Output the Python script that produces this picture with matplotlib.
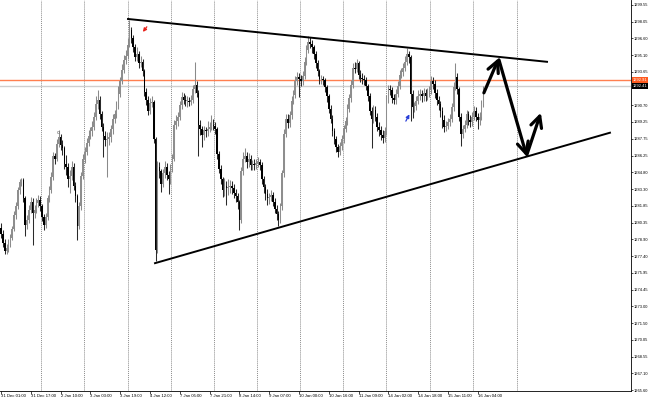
import numpy as np
import matplotlib.pyplot as plt

plt.rcParams['font.family'] = ['Liberation Sans', 'DejaVu Sans']

# H1 bars from 31 Dec 01:00, prices
first_open = 1279.9
close = [
    1279.4, 1278.6, 1277.9, 1278.1, 1278.5, 1279.0, 1279.8, 1281.0, 1281.8, 1283.2, 1283.9, 1284.1, 1282.5, 1280.2, 1280.6, 1281.5,
    1282.2, 1281.2, 1281.5, 1282.1, 1282.4, 1281.8, 1280.9, 1280.2, 1280.9, 1282.5, 1283.2, 1284.4, 1286.2, 1286.0, 1287.3, 1287.9,
    1287.2, 1286.9, 1285.5, 1285.3, 1284.2, 1284.5, 1285.3, 1283.6, 1282.7, 1280.1, 1281.8, 1284.5, 1286.0, 1286.6, 1287.4, 1288.0,
    1288.4, 1288.8, 1289.7, 1290.8, 1291.2, 1289.9, 1288.8, 1288.0, 1287.6, 1287.7, 1287.9, 1288.6, 1289.5, 1289.9, 1290.7, 1291.7,
    1292.8, 1293.8, 1294.7, 1295.0, 1296.0, 1297.3, 1296.6, 1295.8, 1294.9, 1295.2, 1294.4, 1294.5, 1293.7, 1291.9, 1291.2, 1290.2,
    1290.9, 1291.0, 1287.7, 1278.0, 1285.3, 1284.9, 1283.8, 1284.7, 1285.3, 1284.6, 1284.2, 1285.1, 1286.0, 1289.0, 1289.3, 1289.7,
    1290.7, 1291.4, 1291.2, 1291.1, 1291.1, 1291.0, 1291.2, 1292.1, 1292.5, 1291.8, 1289.0, 1288.6, 1288.1, 1288.5, 1288.4, 1288.6,
    1288.8, 1289.0, 1288.9, 1288.6, 1286.4, 1285.1, 1284.2, 1283.2, 1283.6, 1283.4, 1283.5, 1283.6, 1283.4, 1283.0, 1282.7, 1282.2,
    1280.6, 1284.9, 1286.0, 1286.2, 1285.7, 1286.0, 1285.4, 1285.5, 1285.4, 1285.6, 1285.7, 1285.4, 1284.2, 1283.5, 1282.9, 1282.5,
    1282.6, 1282.8, 1282.2, 1281.6, 1281.1, 1280.6, 1281.8, 1284.7, 1288.2, 1289.5, 1289.1, 1289.8, 1291.1, 1291.6, 1292.8, 1293.2,
    1293.0, 1292.8, 1293.3, 1294.5, 1295.6, 1296.3, 1296.1, 1295.8, 1295.2, 1294.4, 1293.7, 1293.0, 1293.0, 1292.9, 1292.3, 1291.5,
    1290.4, 1289.5, 1288.4, 1287.7, 1287.0, 1286.6, 1287.1, 1287.7, 1288.6, 1289.3, 1290.4, 1291.3, 1292.5, 1294.0, 1293.9, 1294.4,
    1293.4, 1293.1, 1293.0, 1292.9, 1292.4, 1291.5, 1290.2, 1289.5, 1290.3, 1289.7, 1288.8, 1288.5, 1288.1, 1287.8, 1288.4, 1291.2,
    1292.1, 1292.0, 1291.3, 1291.2, 1291.7, 1292.4, 1293.4, 1293.6, 1294.0, 1294.5, 1295.2, 1294.9, 1291.7, 1290.5, 1290.6, 1291.1,
    1291.5, 1291.7, 1291.5, 1291.8, 1291.5, 1291.8, 1292.0, 1292.8, 1292.6, 1291.8, 1291.2, 1290.8, 1290.2, 1289.4, 1288.8, 1288.9,
    1289.2, 1289.5, 1290.5, 1292.3, 1293.2, 1292.1, 1289.7, 1288.2, 1288.6, 1289.0, 1289.9, 1289.4, 1289.2, 1289.7, 1290.2, 1289.7,
    1289.4, 1289.7, 1290.8, 1292.0,
]
high = [
    1280.3, 1279.7, 1278.9, 1278.5, 1278.9, 1279.4, 1280.1, 1281.4, 1282.2, 1283.5, 1284.2, 1284.3, 1284.3, 1282.7, 1281.0, 1281.9,
    1282.6, 1282.5, 1281.9, 1282.5, 1282.8, 1282.7, 1282.0, 1281.1, 1281.2, 1282.8, 1283.6, 1284.8, 1286.6, 1286.5, 1287.7, 1288.5,
    1288.2, 1287.6, 1287.1, 1286.3, 1285.6, 1285.0, 1285.8, 1285.6, 1283.9, 1282.9, 1282.2, 1284.8, 1286.4, 1287.0, 1287.8, 1288.5,
    1288.8, 1289.3, 1290.1, 1291.5, 1292.0, 1291.5, 1290.2, 1289.1, 1288.4, 1288.3, 1288.3, 1289.0, 1289.9, 1290.3, 1291.1, 1292.4,
    1293.2, 1294.3, 1295.1, 1295.6, 1296.6, 1298.2, 1297.6, 1296.9, 1296.1, 1295.8, 1295.5, 1295.0, 1294.8, 1293.9, 1292.2, 1291.5,
    1291.3, 1291.5, 1291.2, 1287.9, 1285.8, 1285.7, 1285.1, 1285.1, 1285.8, 1285.6, 1284.9, 1285.5, 1286.4, 1289.4, 1289.8, 1290.1,
    1291.1, 1291.9, 1291.8, 1291.6, 1291.5, 1291.4, 1291.6, 1292.5, 1294.5, 1292.8, 1292.0, 1289.4, 1288.9, 1288.9, 1288.8, 1289.3,
    1289.2, 1289.8, 1289.5, 1289.2, 1288.8, 1286.7, 1285.4, 1284.4, 1284.3, 1284.0, 1284.2, 1284.1, 1284.0, 1283.8, 1283.3, 1283.0,
    1282.4, 1285.3, 1286.6, 1286.9, 1286.6, 1286.5, 1286.3, 1285.9, 1286.0, 1286.0, 1286.1, 1286.0, 1285.7, 1284.5, 1283.8, 1283.3,
    1283.0, 1283.2, 1283.1, 1282.5, 1281.9, 1281.4, 1282.1, 1285.0, 1288.6, 1289.9, 1289.9, 1290.2, 1291.5, 1292.0, 1293.3, 1293.6,
    1293.5, 1293.4, 1293.7, 1294.9, 1296.0, 1296.8, 1296.7, 1296.4, 1296.0, 1295.5, 1294.7, 1293.9, 1293.4, 1293.3, 1293.1, 1292.5,
    1291.7, 1290.7, 1289.8, 1288.7, 1288.0, 1287.3, 1287.5, 1288.1, 1289.0, 1289.7, 1290.8, 1291.7, 1292.9, 1294.4, 1294.5, 1294.8,
    1294.6, 1293.8, 1293.5, 1293.4, 1293.2, 1292.6, 1291.8, 1290.5, 1290.7, 1290.6, 1290.0, 1289.2, 1288.9, 1288.5, 1288.8, 1291.6,
    1292.5, 1292.5, 1292.3, 1291.7, 1292.1, 1292.8, 1293.8, 1294.0, 1294.4, 1295.0, 1295.7, 1295.5, 1295.1, 1292.0, 1291.0, 1291.5,
    1292.0, 1292.1, 1292.0, 1292.2, 1292.1, 1292.2, 1292.4, 1293.3, 1293.2, 1292.9, 1292.1, 1291.5, 1291.1, 1290.5, 1289.8, 1289.3,
    1289.6, 1289.9, 1290.9, 1292.7, 1294.4, 1293.5, 1292.3, 1290.0, 1289.0, 1289.4, 1290.3, 1290.2, 1289.8, 1290.1, 1290.6, 1290.5,
    1290.0, 1290.1, 1291.2, 1292.4,
]
low = [
    1279.0, 1278.2, 1277.6, 1277.6, 1277.8, 1278.2, 1278.8, 1279.6, 1280.7, 1281.6, 1282.9, 1283.6, 1282.2, 1279.2, 1279.8, 1280.3,
    1281.2, 1278.4, 1280.8, 1281.2, 1281.7, 1281.4, 1280.5, 1279.7, 1279.9, 1280.6, 1282.2, 1283.0, 1284.1, 1285.5, 1285.8, 1287.0,
    1286.8, 1286.3, 1285.1, 1284.6, 1283.5, 1283.0, 1284.1, 1283.2, 1282.2, 1278.8, 1279.8, 1281.5, 1284.2, 1285.6, 1286.3, 1287.1,
    1287.7, 1288.0, 1288.5, 1289.4, 1290.4, 1289.5, 1288.4, 1286.1, 1287.1, 1284.4, 1287.2, 1287.5, 1288.2, 1289.1, 1289.6, 1290.4,
    1291.4, 1292.6, 1293.5, 1294.3, 1294.8, 1295.8, 1296.2, 1295.4, 1294.6, 1294.6, 1294.0, 1294.1, 1293.3, 1291.5, 1290.7, 1289.8,
    1289.9, 1290.5, 1287.4, 1277.0, 1277.7, 1284.3, 1283.1, 1283.5, 1284.3, 1284.1, 1282.9, 1283.8, 1284.8, 1285.8, 1288.6, 1288.9,
    1289.4, 1290.4, 1290.8, 1290.6, 1290.5, 1290.6, 1290.7, 1290.9, 1291.8, 1291.4, 1286.2, 1288.1, 1287.0, 1287.6, 1287.9, 1288.0,
    1288.3, 1288.5, 1288.5, 1288.2, 1286.0, 1284.7, 1283.8, 1282.6, 1282.7, 1281.9, 1282.8, 1283.0, 1282.9, 1282.5, 1282.2, 1281.6,
    1279.7, 1280.3, 1284.6, 1285.7, 1285.2, 1285.3, 1285.0, 1285.0, 1285.0, 1285.1, 1285.3, 1285.0, 1283.8, 1283.0, 1282.4, 1281.9,
    1282.0, 1282.3, 1281.8, 1281.2, 1280.6, 1280.1, 1280.3, 1281.5, 1284.4, 1287.9, 1288.7, 1288.8, 1289.5, 1290.8, 1291.3, 1292.5,
    1291.4, 1292.4, 1292.5, 1293.0, 1294.2, 1295.3, 1295.7, 1295.3, 1294.8, 1294.0, 1293.3, 1292.6, 1292.6, 1292.5, 1291.9, 1291.0,
    1290.0, 1289.1, 1288.0, 1287.3, 1286.6, 1286.1, 1286.3, 1286.8, 1287.4, 1288.3, 1289.0, 1290.1, 1291.0, 1292.2, 1293.5, 1293.6,
    1293.0, 1292.7, 1292.6, 1292.5, 1292.0, 1291.1, 1289.8, 1286.9, 1289.1, 1289.3, 1288.4, 1288.0, 1287.6, 1287.4, 1287.5, 1288.1,
    1290.9, 1291.6, 1290.9, 1290.8, 1290.8, 1291.4, 1292.1, 1293.1, 1293.3, 1293.7, 1294.2, 1294.4, 1289.3, 1289.6, 1290.1, 1290.3,
    1290.8, 1291.2, 1291.0, 1291.1, 1291.1, 1291.2, 1291.4, 1291.7, 1292.1, 1291.3, 1290.7, 1290.3, 1289.7, 1288.7, 1288.3, 1288.4,
    1288.6, 1288.9, 1289.2, 1290.2, 1292.0, 1291.7, 1289.3, 1287.1, 1287.8, 1288.3, 1288.7, 1289.0, 1288.8, 1288.9, 1289.4, 1289.3,
    1288.6, 1289.0, 1289.4, 1290.5,
]

x_labels = ['31 Dec 01:00', '31 Dec 17:00', '2 Jan 10:00', '3 Jan 03:00', '3 Jan 19:00',
            '4 Jan 12:00', '7 Jan 05:00', '7 Jan 21:00', '8 Jan 14:00', '9 Jan 07:00',
            '10 Jan 00:00', '10 Jan 16:00', '11 Jan 09:00', '14 Jan 02:00', '14 Jan 18:00',
            '15 Jan 11:00', '16 Jan 04:00']
label_bars = [0, 16, 32, 48, 64, 80, 96, 112, 128, 144, 160, 176, 192, 208, 224, 240, 256]
y_ticks = [1299.55, 1298.05, 1296.60, 1295.10, 1293.65, 1290.70, 1289.25, 1287.75,
           1286.25, 1284.80, 1283.30, 1281.85, 1280.35, 1278.90, 1277.40, 1275.95,
           1274.45, 1273.00, 1271.50, 1270.05, 1268.55, 1267.10, 1265.60]
grid_bars = [21.5, 44.8, 68.2, 91.3, 114.4, 137.4, 160.5, 183.6, 207.0, 230.3, 253.4, 277.0]

ask_price = 1292.91
bid_price = 1292.41

# triangle sides and the drawn arrows (bar index, price)
upper_bars, upper_prices = [68.2, 293.2], [1298.29, 1294.52]
lower_bars, lower_prices = [82.7, 327.0], [1276.8, 1288.28]
arrow_from = [(259.3, 1291.79), (267.4, 1294.69), (282.4, 1286.35)]
arrow_to = [(267.4, 1294.87), (282.4, 1286.17), (289.9, 1290.04)]

#%%
close = np.array(close)
high = np.array(high)
low = np.array(low)
opn = np.concatenate([[first_open], close[:-1]])
x = np.arange(len(close))
up = close >= opn

fig = plt.figure(figsize=(6.5, 4), dpi=100)
ax = fig.add_axes([0, 9 / 400, 631 / 650, 391 / 400])

for gx in grid_bars:
    ax.axvline(gx, color='#8c8c8c', lw=0.7, ls=(0, (1, 1)), zorder=0)

ax.axhline(ask_price, color='#ff7f50', lw=1.0, zorder=1)
ax.axhline(bid_price, color='#cfcfcf', lw=1.0, zorder=1)

ax.vlines(x[up], low[up], high[up], color='#8a8a8a', lw=0.75, zorder=2)
ax.vlines(x[~up], low[~up], high[~up], color='#2a2a2a', lw=0.75, zorder=2)
body_lo = np.minimum(opn, close)
body_h = np.maximum(np.abs(close - opn), 0.06)
ax.bar(x[up], body_h[up], bottom=body_lo[up], width=0.85, color='#8e8e8e', lw=0, zorder=3)
ax.bar(x[~up], body_h[~up], bottom=body_lo[~up], width=0.85, color='#000000', lw=0, zorder=3)

ax.plot(upper_bars, upper_prices, color='black', lw=1.4, zorder=4)
ax.plot(lower_bars, lower_prices, color='black', lw=1.4, zorder=4)
for a, b in zip(arrow_from, arrow_to):
    ax.annotate('', xy=b, xytext=a,
                arrowprops=dict(arrowstyle='->,head_length=0.8,head_width=0.4',
                                lw=2.3, color='black', shrinkA=0, shrinkB=0), zorder=5)

# trade marks
ax.annotate('', xy=(76.2, 1297.15), xytext=(78.3, 1297.6),
            arrowprops=dict(arrowstyle='-|>', mutation_scale=5, lw=0.9, color='#e8211a',
                            shrinkA=0, shrinkB=0))
ax.annotate('', xy=(219.3, 1289.9), xytext=(217.4, 1289.3),
            arrowprops=dict(arrowstyle='-|>', mutation_scale=5, lw=0.9, color='#2a3fd8',
                            shrinkA=0, shrinkB=0))
ax.plot([30.6], [1288.35], marker='o', ms=1.6, mfc='none', mec='#7a7a7a', mew=0.4)

ax.set_xlim(-0.54, 338.3)
ax.set_ylim(1265.55, 1299.96)

ax.set_xticks(label_bars)
ax.set_xticklabels(x_labels, ha='left')
ax.yaxis.tick_right()
ax.set_yticks(y_ticks)
ax.set_yticklabels(['%.2f' % v for v in y_ticks], ha='left')
ax.tick_params(axis='x', length=2, width=0.5, pad=0.5, labelsize=3.1)
ax.tick_params(axis='y', length=1.5, width=0.5, pad=0.5, labelsize=2.9)

for s in ['top', 'left']:
    ax.spines[s].set_visible(False)
for s in ['right', 'bottom']:
    ax.spines[s].set_linewidth(0.6)

trans = ax.get_yaxis_transform()
ax.text(1.003, ask_price, '%.2f' % ask_price, transform=trans, fontsize=2.9, color='white',
        va='center', ha='left', bbox=dict(boxstyle='square,pad=0.2', fc='#ff5a1e', ec='none'))
ax.text(1.003, bid_price, '%.2f' % bid_price, transform=trans, fontsize=2.9, color='white',
        va='center', ha='left', bbox=dict(boxstyle='square,pad=0.2', fc='black', ec='none'))

fig.savefig('out.png', dpi=100)
